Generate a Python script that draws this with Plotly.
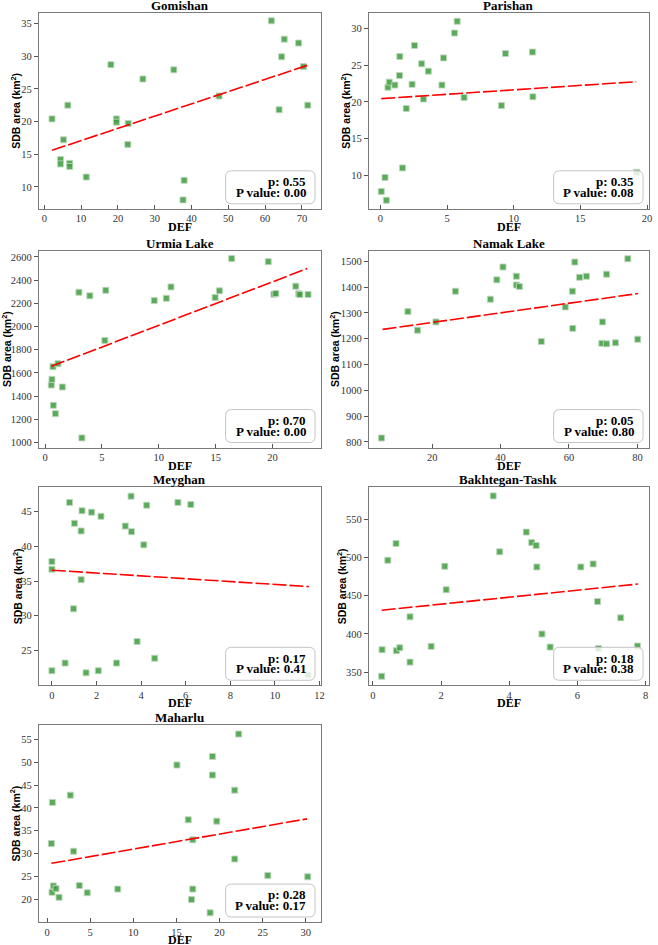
import plotly.graph_objects as go

# ---------------- data ----------------
lakes = ["Gomishan", "Parishan", "Urmia Lake", "Namak Lake", "Meyghan", "Bakhtegan-Tashk", "Maharlu"]

gomishan_def = [2.1, 5.2, 6.4, 4.4, 4.4, 6.9, 6.9, 11.4, 18.1, 19.6, 19.6, 22.8, 22.7, 26.8, 35.2, 38.0, 37.7, 47.5, 61.7, 65.2, 64.5, 63.8, 69.1, 70.4, 71.6]
gomishan_sdb = [20.4, 17.2, 22.5, 14.2, 13.5, 13.6, 13.1, 11.5, 28.7, 20.4, 19.9, 19.7, 16.5, 26.5, 27.9, 11.0, 8.0, 23.9, 35.4, 32.6, 29.9, 21.8, 32.0, 28.4, 22.5]

parishan_def = [0.07, 0.35, 0.45, 0.57, 0.67, 1.09, 1.46, 1.44, 1.66, 1.94, 2.38, 2.56, 3.1, 3.23, 3.6, 4.62, 4.74, 5.56, 5.76, 6.28, 9.08, 9.38, 11.41, 11.44, 19.23]
parishan_sdb = [7.8, 9.7, 6.6, 22.0, 22.7, 22.3, 26.2, 23.6, 11.0, 19.1, 22.4, 27.7, 25.2, 20.4, 24.2, 22.3, 26.0, 29.4, 31.0, 20.6, 19.5, 26.6, 26.8, 20.7, 10.4]

urmia_def = [0.55, 0.61, 0.70, 0.73, 0.91, 1.14, 1.52, 2.98, 3.24, 3.94, 5.26, 5.34, 9.6, 10.66, 11.07, 14.95, 15.33, 16.41, 19.62, 20.12, 20.29, 22.04, 22.3, 22.4, 23.12]
urmia_sdb = [1496, 1545, 1654, 1321, 1249, 1680, 1479, 2296, 1040, 2265, 1880, 2313, 2224, 2244, 2342, 2250, 2308, 2586, 2560, 2279, 2285, 2348, 2282, 2276, 2276]

namak_def = [5.2, 12.9, 15.7, 21.1, 26.8, 37.0, 38.9, 40.7, 44.6, 44.6, 45.5, 51.9, 58.9, 61.0, 61.1, 61.7, 63.1, 65.1, 69.8, 69.6, 71.0, 71.0, 73.6, 77.2, 80.1]
namak_sdb = [815, 1305, 1233, 1265, 1384, 1353, 1428, 1478, 1442, 1408, 1402, 1189, 1323, 1384, 1240, 1497, 1438, 1442, 1265, 1182, 1180, 1450, 1184, 1510, 1198]

meyghan_def = [0.0, 0.0, 0.0, 0.59, 0.79, 1.01, 0.97, 1.31, 1.31, 1.35, 1.53, 1.78, 2.08, 2.2, 2.9, 3.29, 3.55, 3.57, 3.82, 4.12, 4.25, 4.61, 5.65, 6.23, 11.49]
meyghan_sdb = [22.1, 37.8, 36.7, 23.2, 46.3, 43.3, 31.0, 42.2, 35.2, 45.1, 21.8, 44.9, 22.1, 44.3, 23.2, 42.9, 47.2, 42.1, 26.3, 40.2, 45.9, 23.9, 46.3, 46.0, 21.5]

bakhtegan_def = [0.26, 0.27, 0.44, 0.68, 0.69, 0.79, 1.09, 1.09, 1.71, 2.11, 2.15, 3.53, 3.72, 4.5, 4.66, 4.79, 4.81, 4.96, 5.2, 6.1, 6.46, 6.59, 6.62, 7.27, 7.76]
bakhtegan_sdb = [344.7, 379.4, 496.5, 518.4, 378.1, 382.0, 422.4, 363.2, 383.8, 488.6, 457.9, 580.7, 507.5, 533.3, 519.7, 515.8, 487.7, 400.0, 382.9, 487.7, 491.7, 442.5, 381.1, 421.1, 384.2]

maharlu_def = [0.5, 0.58, 0.62, 0.73, 1.04, 1.39, 2.7, 3.08, 3.74, 4.66, 8.2, 15.06, 16.37, 16.75, 16.9, 16.9, 18.91, 19.18, 19.18, 19.68, 21.76, 21.76, 22.22, 25.6, 30.23]
maharlu_sdb = [32.2, 21.5, 41.2, 22.9, 22.3, 20.4, 42.8, 30.5, 23.0, 21.4, 22.2, 49.4, 37.4, 19.9, 33.0, 22.2, 17.0, 51.3, 47.2, 37.1, 43.9, 28.8, 56.2, 25.2, 24.9]

# trend line end points (x0, y0, x1, y1)
trend_x0 = [2.1, 0.07, 0.55, 5.5, 0.0, 0.26, 0.5]
trend_y0 = [15.6, 20.45, 1657, 1236, 36.56, 431.1, 27.85]
trend_x1 = [71.8, 19.2, 23.04, 80.2, 11.52, 7.78, 30.15]
trend_y1 = [28.65, 22.76, 2500, 1375, 34.2, 465.4, 37.6]

corr_p = ["0.55", "0.35", "0.70", "0.05", "0.17", "0.18", "0.28"]
p_values = ["0.00", "0.08", "0.00", "0.80", "0.41", "0.38", "0.17"]

xs = [gomishan_def, parishan_def, urmia_def, namak_def, meyghan_def, bakhtegan_def, maharlu_def]
ys = [gomishan_sdb, parishan_sdb, urmia_sdb, namak_sdb, meyghan_sdb, bakhtegan_sdb, maharlu_sdb]

# ---------------- layout constants ----------------
W, H = 658, 945
cols_px = [(39, 323), (371, 653)]
rows_px = [(13, 209), (251, 448), (488, 686), (726, 923)]
ylabel_offset = [23, 23, 33, 35, 22, 28, 24]

x_ranges = [[-1.5, 75.2], [-0.87, 20.15], [-0.55, 24.26], [1.45, 83.4], [-0.59, 12.07], [-0.12, 8.1], [-0.96, 31.77]]
y_ranges = [[6.65, 36.6], [5.43, 32.13], [957, 2654], [778, 1541], [20.01, 48.45], [332.9, 591.7], [14.98, 58.13]]
x_ticks = [list(range(0, 71, 10)), [0, 5, 10, 15, 20], [0, 5, 10, 15, 20], [20, 40, 60, 80],
           list(range(0, 13, 2)), [0, 2, 4, 6, 8], list(range(0, 31, 5))]
y_ticks = [list(range(10, 36, 5)), list(range(10, 31, 5)), list(range(1000, 2601, 200)),
           list(range(800, 1501, 100)), list(range(25, 46, 5)), list(range(350, 551, 50)),
           list(range(20, 56, 5))]

SERIF = "Liberation Serif"
SANS = "Liberation Sans"

fig = go.Figure()
shapes = []
annotations = []
layout_axes = {}

for i in range(7):
    r, c = divmod(i, 2)
    (xl, xr) = cols_px[c]
    (yt, yb) = rows_px[r]
    xd = [xl / W, xr / W]
    yd = [1 - yb / H, 1 - yt / H]
    n = "" if i == 0 else str(i + 1)
    xa, ya = "x" + n, "y" + n

    fig.add_trace(go.Scatter(
        x=xs[i], y=ys[i], mode="markers", xaxis=xa, yaxis=ya, showlegend=False,
        marker=dict(symbol="square", size=6, color="rgba(60,155,60,0.85)",
                    line=dict(color="rgba(190,215,190,0.9)", width=1)),
    ))
    fig.add_trace(go.Scatter(
        x=[trend_x0[i], trend_x1[i]], y=[trend_y0[i], trend_y1[i]], mode="lines",
        xaxis=xa, yaxis=ya, showlegend=False,
        line=dict(color="red", width=1.6, dash="14px,3px"),
    ))

    axis_common = dict(showgrid=False, zeroline=False, showline=True, mirror=True,
                       linecolor="#7a7a7a", linewidth=1, ticklen=4, tickwidth=1,
                       tickcolor="#555", tickfont=dict(family=SERIF, size=10.5, color="#333"))
    layout_axes["xaxis" + n] = dict(axis_common, domain=xd, anchor=ya, range=x_ranges[i],
                                    tickvals=x_ticks[i], ticks="inside")
    layout_axes["yaxis" + n] = dict(axis_common, domain=yd, anchor=xa, range=y_ranges[i],
                                    tickvals=y_ticks[i], ticks="outside")

    # title
    annotations.append(dict(text="<b>%s</b>" % lakes[i], xref="paper", yref="paper",
                            x=(xd[0] + xd[1]) / 2, y=1 - (yt - 7.5) / H, xanchor="center",
                            yanchor="middle", showarrow=False,
                            font=dict(family=SERIF, size=13, color="black")))
    # x label
    annotations.append(dict(text="<b>DEF</b>", xref="paper", yref="paper",
                            x=(xd[0] + xd[1]) / 2, y=1 - (yb + 18) / H, xanchor="center",
                            yanchor="middle", showarrow=False,
                            font=dict(family=SERIF, size=12, color="black")))
    # y label
    annotations.append(dict(text="<b>SDB area (km<sup>2</sup>)</b>", xref="paper", yref="paper",
                            x=(xl - ylabel_offset[i]) / W, y=1 - (yt + yb) / 2 / H, xanchor="center",
                            yanchor="middle", textangle=-90, showarrow=False,
                            font=dict(family=SANS, size=10.5, color="black")))

    # rounded stats box
    bx1 = xr - 6
    bx0 = bx1 - 90
    by1 = yb - 5
    by0 = by1 - 33
    rad = 6

    def P(px, py):
        return "%.5f,%.5f" % (px / W, 1 - py / H)

    path = ("M " + P(bx0 + rad, by0) + " L " + P(bx1 - rad, by0) +
            " Q " + P(bx1, by0) + " " + P(bx1, by0 + rad) +
            " L " + P(bx1, by1 - rad) +
            " Q " + P(bx1, by1) + " " + P(bx1 - rad, by1) +
            " L " + P(bx0 + rad, by1) +
            " Q " + P(bx0, by1) + " " + P(bx0, by1 - rad) +
            " L " + P(bx0, by0 + rad) +
            " Q " + P(bx0, by0) + " " + P(bx0 + rad, by0) + " Z")
    shapes.append(dict(type="path", path=path, xref="paper", yref="paper",
                       fillcolor="rgba(255,255,255,0.8)",
                       line=dict(color="#c4c4c4", width=1), layer="above"))
    cy = (by0 + by1) / 2
    annotations.append(dict(text="<b>p: %s</b>" % corr_p[i], xref="paper", yref="paper",
                            x=(bx1 - 7) / W, y=1 - (cy - 5.8) / H, xanchor="right",
                            yanchor="middle", showarrow=False,
                            font=dict(family=SERIF, size=13, color="black")))
    annotations.append(dict(text="<b>P value: %s</b>" % p_values[i], xref="paper", yref="paper",
                            x=(bx1 - 7) / W, y=1 - (cy + 5.2) / H, xanchor="right",
                            yanchor="middle", showarrow=False,
                            font=dict(family=SERIF, size=13, color="black")))

fig.update_layout(
    width=W, height=H, margin=dict(l=0, r=0, t=0, b=0),
    paper_bgcolor="white", plot_bgcolor="white",
    font=dict(family=SERIF),
    shapes=shapes, annotations=annotations, **layout_axes,
)

fig.write_html("out.html", config={"displayModeBar": False})
